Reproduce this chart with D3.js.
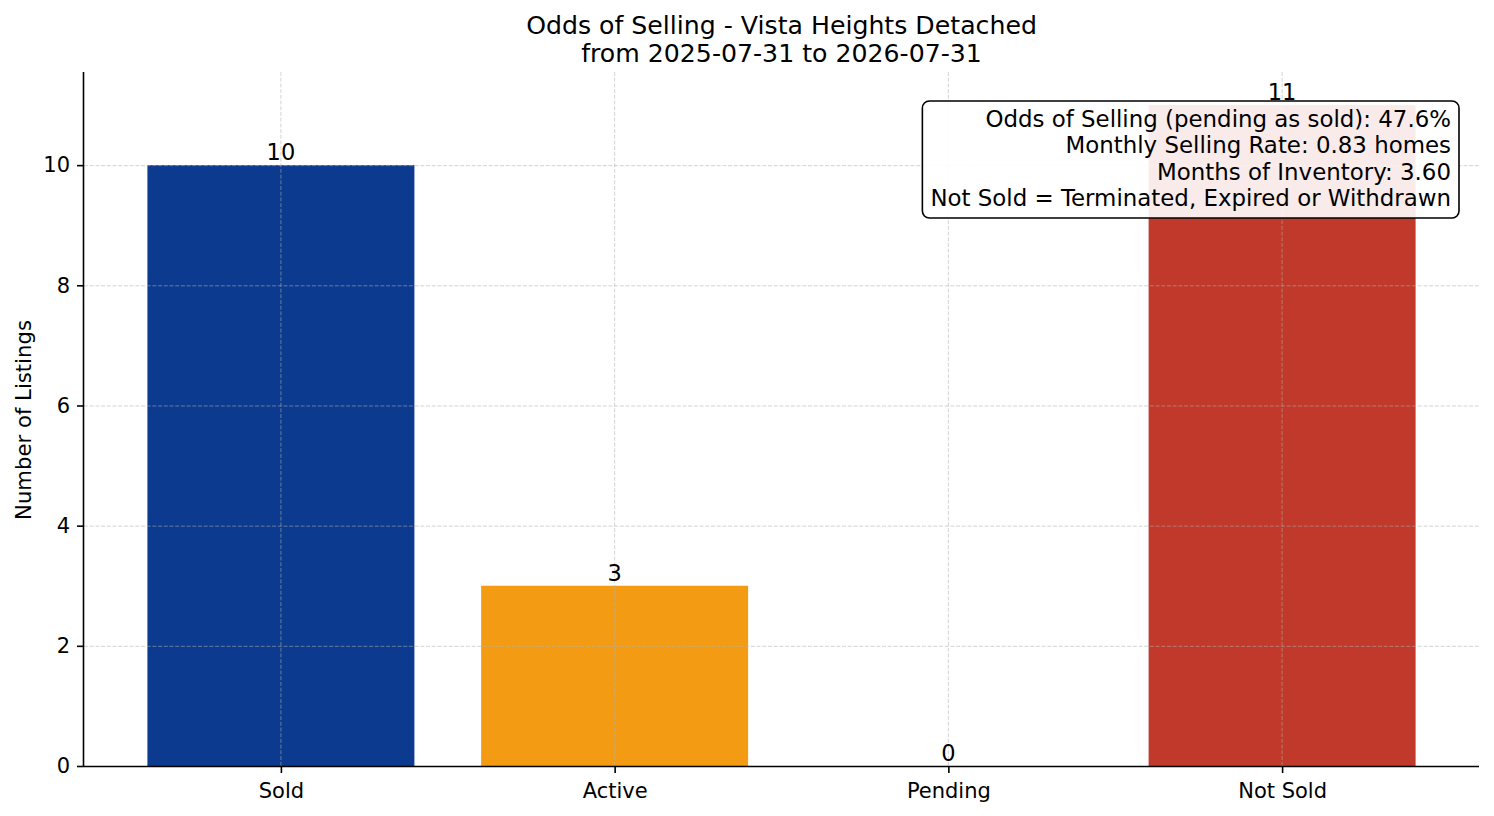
<!DOCTYPE html>
<html>
<head>
<meta charset="utf-8">
<script src="https://cdn.jsdelivr.net/npm/d3@7"></script>
<style>
  html, body { margin: 0; padding: 0; background: #fff; }
  svg { display: block; font-family: "DejaVu Sans", sans-serif; }
</style>
</head>
<body>
<svg id="chart"></svg>
<script>
// Data
const categories = ["Sold", "Active", "Pending", "Not Sold"];
const counts = [10, 3, 0, 11];
const barColors = ["#0c3a8e", "#f39c13", "#c0392b", "#c0392b"];
const yTicks = [0, 2, 4, 6, 8, 10];
const titleLines = ["Odds of Selling - Vista Heights Detached", "from 2025-07-31 to 2026-07-31"];
const statLines = [
  "Odds of Selling (pending as sold): 47.6%",
  "Monthly Selling Rate: 0.83 homes",
  "Months of Inventory: 3.60",
  "Not Sold = Terminated, Expired or Withdrawn"
];

const width = 1494, height = 816;
const margin = { top: 72, right: 15, bottom: 50, left: 84 };
const plotW = width - margin.left - margin.right;
const plotH = height - margin.top - margin.bottom;

const svg = d3.select("#chart").attr("width", width).attr("height", height);
const g = svg.append("g").attr("transform", `translate(${margin.left},${margin.top})`);

// matplotlib-like: bars of width 0.8 at integer positions, 5% margins
const barW = 0.8;
const x = d3.scaleLinear().domain([-0.59, categories.length - 1 + 0.59]).range([0, plotW]);
const yMax = d3.max(counts) * 1.05;
const y = d3.scaleLinear().domain([0, yMax]).range([plotH, 0]);

// Bars
g.append("g").selectAll("rect")
  .data(counts).join("rect")
  .attr("x", (d, i) => x(i - barW / 2))
  .attr("width", (d, i) => x(i + barW / 2) - x(i - barW / 2))
  .attr("y", d => y(d))
  .attr("height", d => y(0) - y(d))
  .attr("fill", (d, i) => barColors[i]);

// Grid (drawn over the bars, like the reference)
const grid = g.append("g")
  .attr("stroke", "#b0b0b0").attr("stroke-opacity", 0.55)
  .attr("stroke-width", 1).attr("stroke-dasharray", "4,1.7");
grid.selectAll("line.h").data(yTicks).join("line").attr("class", "h")
  .attr("x1", 0).attr("x2", plotW)
  .attr("y1", d => y(d) + 0.5).attr("y2", d => y(d) + 0.5);
grid.selectAll("line.v").data(categories).join("line").attr("class", "v")
  .attr("x1", (d, i) => x(i)).attr("x2", (d, i) => x(i))
  .attr("y1", 0).attr("y2", plotH);

// Value labels
g.append("g").selectAll("text")
  .data(counts).join("text")
  .attr("x", (d, i) => x(i))
  .attr("y", d => y(d) - 5)
  .attr("text-anchor", "middle")
  .attr("font-size", "22.5px")
  .attr("fill", "#000")
  .text(d => d);

// Axes
const yAxis = g.append("g")
  .call(d3.axisLeft(y).tickValues(yTicks).tickSize(7).tickPadding(7));
const xAxis = g.append("g").attr("transform", `translate(0,${plotH})`)
  .call(d3.axisBottom(x).tickValues(d3.range(categories.length))
    .tickFormat(i => categories[i]).tickSize(7).tickPadding(10));
[yAxis, xAxis].forEach(a => {
  a.select(".domain").attr("stroke", "#000").attr("stroke-width", 1.6);
  a.selectAll(".tick line").attr("stroke", "#000").attr("stroke-width", 1.6);
  a.selectAll(".tick text").attr("font-size", "21px").attr("fill", "#000")
    .attr("font-family", "DejaVu Sans, sans-serif");
});
// bottom spine spans full width (no outer tick stubs)
xAxis.select(".domain").attr("d", `M0,0.5H${plotW}`);
yAxis.select(".domain").attr("d", `M-0.5,${plotH}V0`);

// Y label
svg.append("text")
  .attr("transform", `translate(31,${margin.top + plotH / 2 + 1}) rotate(-90)`)
  .attr("text-anchor", "middle")
  .attr("font-size", "21.2px")
  .attr("fill", "#000")
  .text("Number of Listings");

// Title
svg.append("g").selectAll("text")
  .data(titleLines).join("text")
  .attr("x", margin.left + plotW / 2)
  .attr("y", (d, i) => 34 + i * 28)
  .attr("text-anchor", "middle")
  .attr("font-size", "25.2px")
  .attr("fill", "#000")
  .text(d => d);

// Stats box, top-right of the axes
const boxRight = margin.left + plotW - 20;
const box = svg.append("g");
const boxRect = box.append("rect")
  .attr("fill", "#fff").attr("fill-opacity", 0.9)
  .attr("stroke", "#000").attr("stroke-width", 1.6)
  .attr("rx", 7).attr("ry", 7);
const statText = box.selectAll("text")
  .data(statLines).join("text")
  .attr("x", boxRight - 8)
  .attr("y", (d, i) => 127 + i * 26.3)
  .attr("text-anchor", "end")
  .attr("font-size", "22.9px")
  .attr("fill", "#000")
  .text(d => d);
const maxW = d3.max(statText.nodes(), n => n.getComputedTextLength());
boxRect
  .attr("x", boxRight - maxW - 16)
  .attr("width", maxW + 16)
  .attr("y", 101)
  .attr("height", 117);
</script>
</body>
</html>
